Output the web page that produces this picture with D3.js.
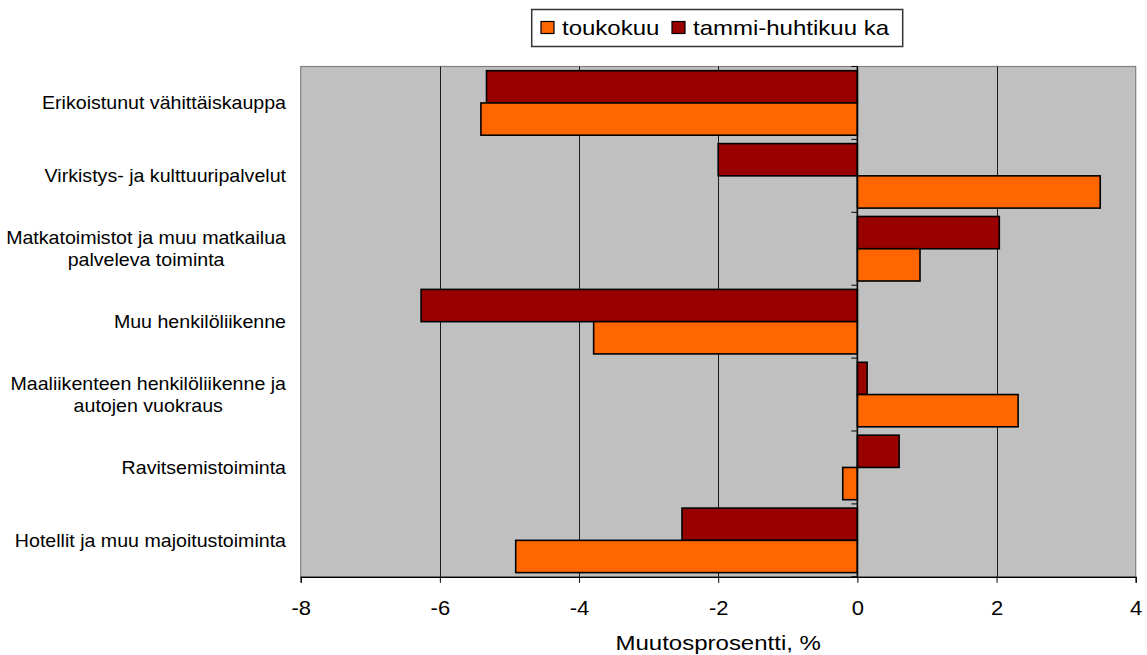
<!DOCTYPE html>
<html><head><meta charset="utf-8">
<script src="https://cdn.jsdelivr.net/npm/d3@7"></script>
<style>body{margin:0;background:#fff}svg{display:block}text{font-family:"Liberation Sans",Arial,sans-serif;fill:#000}</style>
</head><body>
<script>
const categories = [
  ["Erikoistunut vähittäiskauppa"],
  ["Virkistys- ja kulttuuripalvelut"],
  ["Matkatoimistot ja muu matkailua","palveleva toiminta"],
  ["Muu henkilöliikenne"],
  ["Maaliikenteen henkilöliikenne ja","autojen vuokraus"],
  ["Ravitsemistoiminta"],
  ["Hotellit ja muu majoitustoiminta"]
];
const seriesNames = ["tammi-huhtikuu ka","toukokuu"];
const tammiHuhti = [-5.33, -2.00, 2.04, -6.27, 0.14, 0.60, -2.52];
const toukokuu   = [-5.41, 3.49, 0.90, -3.79, 2.31, -0.21, -4.91];
const xTicks = [-8,-6,-4,-2,0,2,4];
const xTitle = "Muutosprosentti, %";
const colors = {"toukokuu":"#ff6600","tammi-huhtikuu ka":"#990000"};

const W=1147,H=655;
const svg=d3.select("body").append("svg").attr("width",W).attr("height",H);
const L=300.7,R=1135.7,T=66.5,B=576.8;
const x=d3.scaleLinear().domain([-8,4]).range([L,R]);
const keys=categories.map((c,i)=>i);
const y=d3.scaleBand().domain(keys).range([T,B]).padding(0);
const ys=d3.scaleBand().domain(seriesNames).range([0,y.bandwidth()]).paddingInner(0).paddingOuter(0.13);

svg.append("rect").attr("x",L).attr("y",T).attr("width",R-L).attr("height",B-T).attr("fill","#c0c0c0").attr("stroke","#808080").attr("stroke-width",1.2);

// gridlines
svg.append("g").selectAll("line").data(xTicks.filter(t=>t>-8&&t<4&&t!==0)).join("line")
  .attr("x1",d=>Math.round(x(d))+0.5).attr("x2",d=>Math.round(x(d))+0.5).attr("y1",T).attr("y2",B)
  .attr("stroke","#1a1a1a").attr("stroke-width",1);

// bars
const data=[];
categories.forEach((c,i)=>{
  data.push({i,s:"tammi-huhtikuu ka",v:tammiHuhti[i]});
  data.push({i,s:"toukokuu",v:toukokuu[i]});
});
svg.append("g").selectAll("rect").data(data).join("rect")
  .attr("x",d=>x(Math.min(0,d.v))).attr("width",d=>Math.abs(x(d.v)-x(0)))
  .attr("y",d=>y(d.i)+ys(d.s)).attr("height",ys.bandwidth())
  .attr("fill",d=>colors[d.s]).attr("stroke","#000").attr("stroke-width",1.6);

// zero axis with category ticks
svg.append("line").attr("x1",x(0)).attr("x2",x(0)).attr("y1",T).attr("y2",B).attr("stroke","#000").attr("stroke-width",1.6);
const bounds=d3.range(categories.length+1).map(k=>T+k*y.step());
svg.append("g").selectAll("line").data(bounds).join("line")
  .attr("x1",x(0)-6).attr("x2",x(0)).attr("y1",d=>d).attr("y2",d=>d).attr("stroke","#000").attr("stroke-width",1);

// x axis
const xa=svg.append("g").attr("transform",`translate(0,${B})`).call(d3.axisBottom(x).tickValues(xTicks).tickSize(6).tickFormat(d=>String(d)));
xa.select(".domain").attr("stroke","#000").attr("stroke-width",1.2);
xa.selectAll(".tick line").attr("stroke","#000");
xa.selectAll(".tick text").remove();
xa.selectAll(".tick").append("text").attr("transform","translate(0,38) scale(1.1,1)").attr("text-anchor","middle")
  .style("font-size","20px").text(d=>String(d));

svg.append("text").attr("transform",`translate(${(L+R)/2},650) scale(1.2,1)`).attr("text-anchor","middle").style("font-size","20px").text(xTitle);

// category labels
const lab=svg.append("g");
categories.forEach((lines,i)=>{
  const cy=y(i)+y.bandwidth()/2;
  const lh=22.5;
  const g=lab.append("g").attr("transform",`translate(286,${cy}) scale(1.06,1)`);
  const tmp=lines.map((t,j)=>g.append("text").style("font-size","18.5px").attr("text-anchor","end").attr("dy","0.35em")
     .attr("y",(j-(lines.length-1)/2)*lh).text(t));
  if(lines.length>1){
    const widths=tmp.map(t=>t.node().getComputedTextLength());
    const mw=Math.max(...widths);
    tmp.forEach((t,j)=>t.attr("text-anchor","middle").attr("x",-mw/2));
  }
});

// legend
const lg=svg.append("g");
lg.append("rect").attr("x",531.7).attr("y",9.5).attr("width",371).attr("height",37).attr("fill","#fff").attr("stroke","#333").attr("stroke-width",1.5);
const legItems=["toukokuu","tammi-huhtikuu ka"];
const legX=[541,672];
legItems.forEach((s,k)=>{
  lg.append("rect").attr("x",legX[k]).attr("y",21.5).attr("width",13).attr("height",12).attr("fill",colors[s]).attr("stroke","#000").attr("stroke-width",1.2);
  lg.append("text").attr("transform",`translate(${legX[k]+21},35) scale(1.2,1)`).style("font-size","20px").text(s);
});
</script>
</body></html>
